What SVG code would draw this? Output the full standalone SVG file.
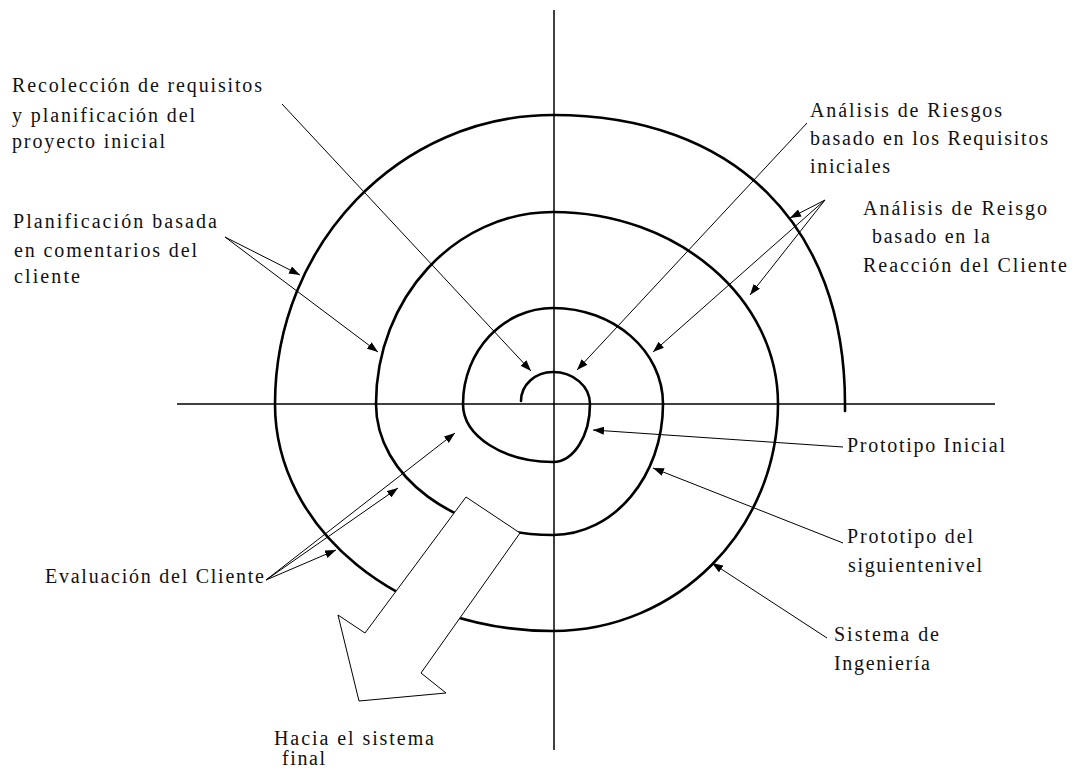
<svg xmlns="http://www.w3.org/2000/svg" width="1078" height="776" viewBox="0 0 1078 776">
<defs>
<marker id="ah" viewBox="0 0 11 8" refX="11" refY="4" markerWidth="11" markerHeight="8" markerUnits="userSpaceOnUse" orient="auto">
<path d="M0,0 L11,4 L0,8 z" fill="#000"/>
</marker>
<style>
.lbl{font-family:"Liberation Serif","Times New Roman",serif;font-size:20px;fill:#111}
.axis{stroke:#000;stroke-width:1.5;fill:none}
.spiral{stroke:#000;stroke-width:2.6;fill:none;stroke-linecap:round}
.con{stroke:#000;stroke-width:1;fill:none;marker-end:url(#ah)}
.big{fill:#fff;stroke:#000;stroke-width:1}
</style>
</defs>
<rect width="1078" height="776" fill="#fff"/>
<g id="axes">
<line class="axis" x1="554" y1="10" x2="554" y2="750"/>
<line class="axis" x1="177" y1="404" x2="995" y2="404"/>
</g>
<g id="spiral">
<path class="spiral" d="M521,401 C521,385 535,372 553,372 C573.4,372 590,386.3 590,404 C590,436 573.4,462 553,462 C503.3,462 463,436 463,404 C463,351 503.3,308 553,308 C613.8,308 663,351 663,404 C663,476.4 613.8,535 553,535 C455.2,535 376,476.4 376,404 C376,298 455.2,212 553,212 C677.3,212 778,298 778,404 C778,529.4 677.3,631 553,631 C399.5,631 275,529.4 275,404 C275,244.4 399.5,115 553,115 C734,115 845,225 845,404 L845,411"/>
</g>
<g id="final-arrow">
<polygon class="big" points="466,497 520,533 421,673 446,693 359,701 338,615 365,633"/>
</g>
<g id="connectors">
<line class="con" x1="282" y1="104" x2="531" y2="371"/>
<line class="con" x1="807" y1="123" x2="577" y2="370"/>
<line class="con" x1="825" y1="200" x2="790" y2="218"/>
<line class="con" x1="825" y1="200" x2="750" y2="295"/>
<line class="con" x1="825" y1="200" x2="653" y2="352"/>
<line class="con" x1="225" y1="237" x2="300" y2="275"/>
<line class="con" x1="225" y1="237" x2="378" y2="352"/>
<line class="con" x1="266" y1="580" x2="455" y2="433"/>
<line class="con" x1="266" y1="580" x2="398" y2="488"/>
<line class="con" x1="266" y1="580" x2="336" y2="550"/>
<line class="con" x1="843" y1="447" x2="593" y2="430"/>
<line class="con" x1="843" y1="543" x2="653" y2="468"/>
<line class="con" x1="827" y1="638" x2="712" y2="563"/>
</g>
<g id="n-recoleccion">
<text class="lbl" x="12" y="92" textLength="250" lengthAdjust="spacing">Recolección de requisitos</text>
<text class="lbl" x="12" y="122" textLength="183" lengthAdjust="spacing">y planificación del</text>
<text class="lbl" x="12" y="148" textLength="153" lengthAdjust="spacing">proyecto inicial</text>
</g>
<g id="n-planificacion">
<text class="lbl" x="13" y="228" textLength="204" lengthAdjust="spacing">Planificación basada</text>
<text class="lbl" x="14" y="257" textLength="183" lengthAdjust="spacing">en comentarios del</text>
<text class="lbl" x="14" y="283" textLength="66" lengthAdjust="spacing">cliente</text>
</g>
<g id="n-riesgos">
<text class="lbl" x="810" y="117" textLength="192" lengthAdjust="spacing">Análisis de Riesgos</text>
<text class="lbl" x="810" y="145" textLength="238" lengthAdjust="spacing">basado en los Requisitos</text>
<text class="lbl" x="810" y="173" textLength="80" lengthAdjust="spacing">iniciales</text>
</g>
<g id="n-reisgo">
<text class="lbl" x="863" y="215" textLength="184" lengthAdjust="spacing">Análisis de Reisgo</text>
<text class="lbl" x="872" y="243" textLength="118" lengthAdjust="spacing">basado en la</text>
<text class="lbl" x="863" y="272" textLength="204" lengthAdjust="spacing">Reacción del Cliente</text>
</g>
<g id="n-prototipo-inicial">
<text class="lbl" x="847" y="452" textLength="158" lengthAdjust="spacing">Prototipo Inicial</text>
</g>
<g id="n-prototipo-siguiente">
<text class="lbl" x="847" y="543" textLength="126" lengthAdjust="spacing">Prototipo del</text>
<text class="lbl" x="848" y="572" textLength="134" lengthAdjust="spacing">siguientenivel</text>
</g>
<g id="n-sistema">
<text class="lbl" x="834" y="641" textLength="105" lengthAdjust="spacing">Sistema de</text>
<text class="lbl" x="834" y="670" textLength="96" lengthAdjust="spacing">Ingeniería</text>
</g>
<g id="n-evaluacion">
<text class="lbl" x="45" y="583" textLength="219" lengthAdjust="spacing">Evaluación del Cliente</text>
</g>
<g id="n-hacia">
<text class="lbl" x="274" y="745" textLength="160" lengthAdjust="spacing">Hacia el sistema</text>
<text class="lbl" x="282" y="765" textLength="43" lengthAdjust="spacing">final</text>
</g>
</svg>
